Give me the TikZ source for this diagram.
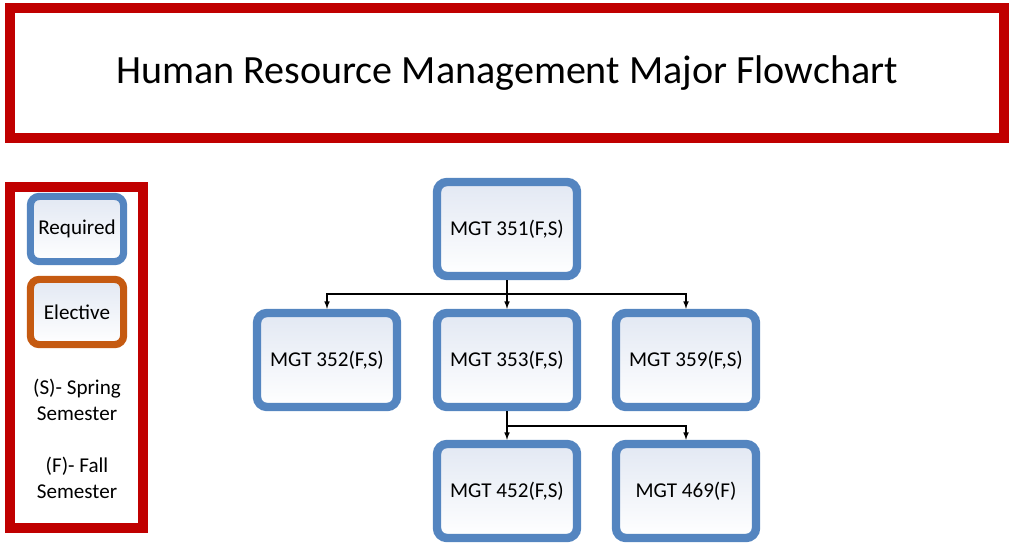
\documentclass[tikz,border=0pt]{standalone}
\usepackage{fontspec}
\setmainfont{Carlito}
\definecolor{frame}{RGB}{192,0,0}
\definecolor{req}{RGB}{84,133,192}
\definecolor{elec}{RGB}{197,90,17}
\definecolor{tint}{RGB}{226,232,243}

\begin{document}
\begin{tikzpicture}[x=0.025cm, y=-0.025cm,
  every node/.style={font=\fontsize{15}{18}\selectfont},
  course/.style={draw=req, line width=0.21cm, rounded corners=0.25cm, top color=tint, bottom color=white, minimum width=3.5cm, minimum height=2.35cm},
  key/.style={line width=0.18cm, rounded corners=0.22cm, top color=tint, bottom color=white, minimum width=2.33cm, minimum height=1.63cm}]
  \useasboundingbox (0,0) rectangle (1012,545);
  \node[draw=frame, line width=0.25cm, minimum width=24.85cm, minimum height=3.25cm, font=\fontsize{28.5}{34}\selectfont] (title) at (507,73) {Human Resource Management Major Flowchart};
  \node[draw=frame, line width=0.25cm, minimum width=3.325cm, minimum height=8.525cm] (legend) at (76.5,357.5) {};
  \node[key, draw=req] (required) at (77,229) {Required};
  \node[key, draw=elec] (elective) at (77,312) {Elective};
  \node[align=center] (spring) at (77,400) {(S)- Spring\\Semester};
  \node[align=center] (fall) at (77,478) {(F)- Fall\\Semester};
  \node[course] (351) at (507,229) {MGT 351(F,S)};
  \node[course] (352) at (327,360) {MGT 352(F,S)};
  \node[course] (353) at (507,360) {MGT 353(F,S)};
  \node[course] (359) at (686,360) {MGT 359(F,S)};
  \node[course] (452) at (507,491) {MGT 452(F,S)};
  \node[course] (469) at (686,491) {MGT 469(F)};
  \coordinate (j1) at (507,294);
  \coordinate (j2) at (507,426);
  \draw[line width=0.8pt] (351) -- (j1);
  \draw[line width=0.8pt, -latex] (j1) -- (353);
  \draw[line width=0.8pt, -latex] (j1) -| (352);
  \draw[line width=0.8pt, -latex] (j1) -| (359);
  \draw[line width=0.8pt] (353) -- (j2);
  \draw[line width=0.8pt, -latex] (j2) -- (452);
  \draw[line width=0.8pt, -latex] (j2) -| (469);
\end{tikzpicture}
\end{document}
